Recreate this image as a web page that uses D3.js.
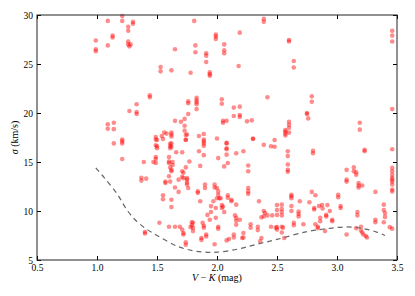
<!DOCTYPE html>
<html>
<head>
<meta charset="utf-8">
<script src="https://cdn.jsdelivr.net/npm/d3@7"></script>
<style>
  body { margin: 0; background: #fff; }
  .tick text { font-family: "Liberation Serif", "Times New Roman", serif; font-size: 9.5px; fill: #000; }
  .tick line { stroke: #000; }
  .axis-label { font-family: "Liberation Serif", "Times New Roman", serif; font-size: 10px; fill: #000; }
</style>
</head>
<body>
<div id="chart"></div>
<script>
// V-K colour (mag) and velocity dispersion (km/s) of each star
var vk = [
  1.09, 1.21, 1.21, 1.30, 1.30, 1.26, 1.26, 1.13, 1.13, 0.99, 1.09, 0.99, 0.99, 1.26, 1.26, 1.27, 1.28,
  1.44, 1.44, 1.33, 1.27, 1.33, 1.33, 1.09, 1.09, 1.14, 1.14, 1.21, 1.21, 1.21, 1.14, 1.49, 1.49, 1.49,
  1.21, 1.39, 1.47, 1.49, 1.49, 1.49, 1.37, 1.37, 1.41, 1.40, 1.40,
  1.81, 2.39, 2.39, 1.99, 1.99, 1.99, 2.19, 2.06, 2.06, 2.06, 1.82, 1.82, 1.65, 1.91, 1.91, 1.91, 2.18,
  1.53, 1.53, 1.62, 1.78, 1.94, 1.94, 1.94, 1.83, 1.83, 1.76, 1.76, 1.83, 1.83, 1.83, 2.04, 2.04, 2.14,
  2.19, 2.42, 1.76, 2.14, 2.19, 2.19, 1.65, 1.70, 1.73, 2.05, 2.05, 2.08, 2.25, 2.29, 1.73, 1.73, 1.75,
  1.85, 1.89, 1.56, 1.58, 1.62, 1.62, 1.62, 1.54,
  1.50, 1.50, 1.62, 1.62, 1.74, 1.74, 1.89, 1.89, 1.89, 2.08, 2.08, 2.30, 2.48, 2.48,
  2.60, 2.60, 2.64, 2.64, 3.46, 3.46, 3.46, 2.79, 2.79, 2.75, 2.75, 2.76, 3.46, 3.19, 3.19, 2.60, 2.60,
  2.60, 2.60, 2.57, 2.57, 2.57, 2.57,
  1.55, 1.61, 1.61, 1.61, 1.74, 1.89, 2.00, 2.08, 2.08, 2.30, 1.50, 1.85, 1.89, 1.66, 1.71, 1.60, 1.60,
  1.60, 1.63, 1.63, 1.77, 1.61, 1.62, 1.62, 1.74, 1.86, 2.01, 2.06, 2.08, 2.09, 2.16, 2.22, 2.26, 2.26,
  1.71, 1.72, 1.71, 1.72, 1.75, 1.75, 1.75, 1.75, 1.60, 1.61, 1.68, 1.57, 1.57, 1.65, 1.68, 1.55, 1.55,
  1.62, 1.62, 1.76, 1.84, 1.84, 1.86, 1.90, 1.90, 1.98, 1.98, 2.00, 2.01, 2.01, 2.00, 2.02, 2.03, 1.97,
  2.04, 2.05, 2.04, 2.09, 2.09, 2.12, 2.12, 2.06, 1.99, 1.95, 1.95, 1.92, 1.94, 1.99, 2.16, 2.26, 2.26,
  2.26, 2.35, 2.39, 2.40, 2.39, 2.42, 2.46, 2.37, 2.15, 2.16, 2.16, 2.16, 2.19, 2.28, 2.28, 2.34, 2.34,
  2.45, 2.49, 2.22, 2.22, 2.14, 2.14, 2.10, 2.08, 2.21, 2.36, 2.37, 1.91, 1.91, 1.87, 1.87, 1.98, 1.74,
  1.74, 1.79, 1.79, 1.80, 1.80, 1.80, 1.78, 1.88, 1.89, 1.89, 2.01, 2.01, 1.65, 1.69, 1.71, 1.72, 1.72,
  1.60, 1.52, 2.39, 2.45,
  2.59, 2.59, 2.59, 2.59, 2.59, 2.80, 2.80, 3.23, 3.23, 3.46, 3.46, 3.46, 3.46, 3.46, 3.46, 3.46, 3.46,
  3.46, 3.46, 3.08, 3.14, 3.14, 3.08, 3.08, 3.16, 3.16, 3.18, 3.18, 3.18, 3.21, 3.32, 2.79, 2.82, 3.01,
  3.01, 2.62, 2.62, 2.62, 2.69, 2.77, 2.54, 2.54, 2.54, 2.54, 2.50, 2.50, 2.50, 2.62, 2.62, 2.68, 2.68,
  2.68, 2.81, 2.81, 2.85, 2.875, 2.92, 2.88, 3.03, 3.03, 2.94, 2.91, 2.91, 3.17, 3.17, 3.39, 3.39, 3.40,
  3.40, 3.32, 3.32, 3.39, 3.44, 3.46, 2.96, 2.96, 2.86, 2.86, 2.84, 2.84, 2.82, 2.90, 2.72, 2.64, 2.64,
  2.54, 2.55, 2.54, 2.50, 2.50, 2.56, 3.08, 3.16, 3.20, 3.20, 3.21, 3.22, 3.24, 3.25
];
var sigma = [
  29.4, 29.9, 29.4, 29.3, 29.1, 28.8, 28.4, 27.9, 27.7, 27.4, 26.9, 26.5, 26.3, 27.3, 27.0, 26.8, 27.0,
  21.8, 21.6, 20.9, 20.2, 20.1, 19.9, 18.85, 18.4, 19.0, 18.35, 17.3, 17.1, 16.9, 16.9, 17.55, 17.3, 16.7,
  15.3, 15.0, 15.0, 14.9, 15.5, 15.3, 13.4, 13.1, 13.3, 7.85, 7.7,
  29.4, 29.6, 29.3, 28.0, 27.8, 27.55, 28.2, 27.0, 26.4, 26.1, 26.9, 26.2, 26.5, 26.1, 25.85, 25.2, 24.8,
  24.7, 24.25, 24.35, 24.1, 24.15, 23.95, 23.8, 21.55, 21.3, 21.2, 21.0, 21.1, 20.9, 20.4, 21.4, 20.95, 20.55,
  20.65, 21.6, 19.9, 19.7, 19.8, 19.6, 19.2, 19.1, 19.4, 19.2, 19.0, 19.2, 19.15, 19.25, 18.7, 18.2, 17.8,
  17.65, 17.85, 18.0, 17.9, 18.0, 17.8, 17.6, 17.65,
  17.25, 16.6, 16.9, 16.55, 17.75, 17.25, 17.1, 16.9, 16.65, 16.9, 16.3, 17.4, 17.25, 16.55,
  27.45, 27.3, 25.3, 24.65, 28.4, 27.9, 27.3, 21.7, 21.15, 20.0, 19.9, 19.45, 20.4, 19.0, 18.3, 19.1, 18.8,
  18.5, 18.0, 18.25, 18.1, 17.9, 17.7,
  17.35, 16.85, 16.6, 16.4, 17.3, 17.3, 17.4, 16.95, 16.4, 17.35, 16.4, 16.1, 15.7, 16.0, 16.0, 15.5, 15.05,
  14.9, 15.0, 14.7, 15.05, 14.45, 14.2, 14.05, 14.45, 14.6, 15.4, 14.55, 15.75, 14.9, 15.9, 16.1, 14.65, 14.05,
  14.05, 13.9, 13.5, 13.35, 13.35, 13.2, 12.9, 12.7, 13.55, 13.0, 13.2, 13.0, 12.85, 12.4, 11.95, 11.6, 11.2,
  11.15, 10.4, 12.35, 12.0, 11.85, 11.0, 12.7, 12.35, 12.7, 12.4, 12.35, 12.0, 11.65, 11.3, 11.3, 11.3, 11.0,
  10.6, 10.45, 10.3, 11.35, 11.6, 11.15, 11.0, 9.9, 10.3, 10.5, 9.9, 9.6, 9.1, 9.3, 10.65, 12.35, 12.0,
  11.75, 11.0, 10.0, 9.8, 9.45, 9.55, 9.55, 9.35, 9.55, 9.3, 9.0, 8.6, 9.1, 8.65, 8.3, 8.4, 8.05,
  8.4, 8.3, 7.75, 7.3, 7.6, 7.3, 7.15, 7.0, 7.25, 6.9, 7.25, 7.6, 7.4, 7.25, 7.05, 6.6, 6.55,
  6.8, 8.85, 8.55, 8.8, 8.3, 7.95, 8.35, 8.8, 8.5, 8.3, 8.4, 8.2, 8.4, 8.4, 8.1, 7.75, 7.6,
  8.4, 8.8, 16.75, 16.6,
  16.1, 15.6, 14.75, 14.2, 14.0, 16.15, 15.9, 16.25, 16.1, 16.3, 14.05, 13.7, 13.4, 13.2, 13.0, 12.7, 12.2,
  12.0, 14.4, 14.2, 14.45, 14.05, 13.2, 13.0, 13.95, 13.7, 12.85, 12.6, 12.4, 12.6, 11.95, 11.95, 11.6, 11.65,
  11.4, 11.65, 11.5, 11.3, 11.0, 10.9, 10.65, 10.2, 9.9, 9.55, 10.6, 10.1, 9.6, 10.5, 10.0, 9.95, 9.7,
  9.45, 10.3, 10.15, 10.5, 10.6, 10.6, 10.25, 10.5, 10.3, 10.0, 9.6, 9.45, 9.9, 9.55, 10.65, 10.1, 9.8,
  9.4, 9.1, 8.85, 8.85, 8.35, 8.2, 9.1, 8.95, 9.3, 8.95, 8.4, 8.25, 8.65, 7.95, 8.65, 8.8, 8.55,
  8.4, 8.3, 7.8, 8.35, 8.1, 7.25, 7.6, 8.25, 8.4, 8.0, 7.8, 7.6, 7.45, 7.3
];

// dashed lower envelope
var curveVK = [0.99, 1.06, 1.17, 1.25, 1.33, 1.42, 1.50, 1.67, 1.80, 1.90, 2.00, 2.17, 2.33, 2.50, 2.75, 2.92, 3.08, 3.22, 3.33, 3.40];
var curveSigma = [14.4, 13.4, 11.7, 10.1, 8.95, 8.1, 7.5, 6.4, 5.95, 5.8, 5.8, 6.1, 6.6, 7.1, 7.9, 8.2, 8.37, 8.2, 7.85, 7.5];

var xTicks = [0.5, 1.0, 1.5, 2.0, 2.5, 3.0, 3.5];
var yTicks = [5, 10, 15, 20, 25, 30];

var svgWidth = 415;
var svgHeight = 296;
var margin = { top: 15, right: 18, bottom: 36, left: 37 };
var chartWidth = svgWidth - margin.left - margin.right;
var chartHeight = svgHeight - margin.top - margin.bottom;

var svg = d3.select("#chart")
  .append("svg")
  .attr("width", svgWidth)
  .attr("height", svgHeight);

var chartGroup = svg.append("g")
  .attr("transform", `translate(${margin.left}, ${margin.top})`);

var xScale = d3.scaleLinear().domain([0.5, 3.5]).range([0, chartWidth]);
var yScale = d3.scaleLinear().domain([5, 30]).range([chartHeight, 0]);

// points
var points = vk.map((v, i) => ({ vk: v, sigma: sigma[i] }));

chartGroup.append("g")
  .selectAll("circle")
  .data(points)
  .enter()
  .append("circle")
  .attr("cx", d => xScale(d.vk))
  .attr("cy", d => yScale(d.sigma))
  .attr("r", 2.3)
  .attr("fill", "#ff0000")
  .attr("fill-opacity", 0.45);

// dashed curve
var line = d3.line()
  .x(d => xScale(d[0]))
  .y(d => yScale(d[1]))
  .curve(d3.curveCatmullRom);

chartGroup.append("path")
  .datum(curveVK.map((v, i) => [v, curveSigma[i]]))
  .attr("d", line)
  .attr("fill", "none")
  .attr("stroke", "#666")
  .attr("stroke-width", 1.2)
  .attr("stroke-dasharray", "5,4");

// axes, ticks pointing inward on all four sides
var bottomAxis = d3.axisBottom(xScale).tickValues(xTicks).tickFormat(d3.format(".1f"))
  .tickSizeInner(-4).tickSizeOuter(0).tickPadding(4.5);
var leftAxis = d3.axisLeft(yScale).tickValues(yTicks).tickFormat(d3.format("d"))
  .tickSizeInner(-4).tickSizeOuter(0).tickPadding(4);
var topAxis = d3.axisTop(xScale).tickValues(xTicks).tickFormat("")
  .tickSizeInner(-4).tickSizeOuter(0);
var rightAxis = d3.axisRight(yScale).tickValues(yTicks).tickFormat("")
  .tickSizeInner(-4).tickSizeOuter(0);

chartGroup.append("g").attr("transform", `translate(0,${chartHeight})`).call(bottomAxis);
chartGroup.append("g").call(leftAxis);
chartGroup.append("g").call(topAxis);
chartGroup.append("g").attr("transform", `translate(${chartWidth},0)`).call(rightAxis);
chartGroup.selectAll(".domain").remove();

// frame
chartGroup.append("rect")
  .attr("width", chartWidth)
  .attr("height", chartHeight)
  .attr("fill", "none")
  .attr("stroke", "#222")
  .attr("stroke-width", 1);

// axis labels
var xLabel = svg.append("text")
  .attr("class", "axis-label")
  .attr("x", margin.left + chartWidth / 2)
  .attr("y", 281)
  .attr("text-anchor", "middle");
xLabel.append("tspan").attr("font-style", "italic").text("V");
xLabel.append("tspan").text(" \u2212 ");
xLabel.append("tspan").attr("font-style", "italic").text("K");
xLabel.append("tspan").text(" (mag)");

var yLabel = svg.append("text")
  .attr("class", "axis-label")
  .attr("transform", `translate(18, ${margin.top + chartHeight / 2}) rotate(-90)`)
  .attr("text-anchor", "middle");
yLabel.append("tspan").attr("font-style", "italic").text("\u03c3");
yLabel.append("tspan").text(" (km/s)");
</script>
</body>
</html>
